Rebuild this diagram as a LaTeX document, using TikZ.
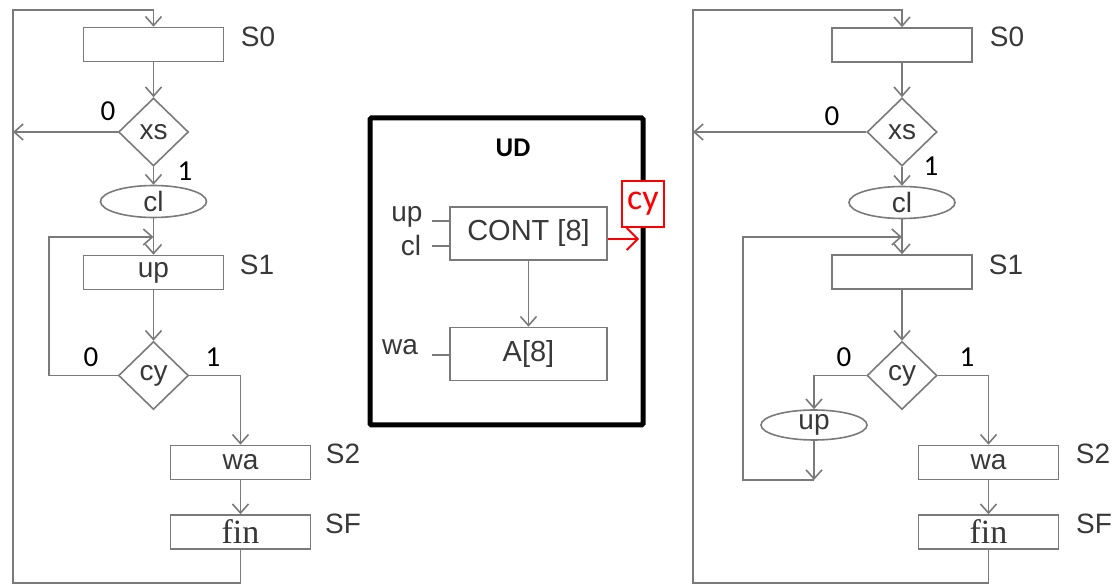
\documentclass[tikz,border=0pt]{standalone}
\usepackage{fontspec}
\setmainfont{Liberation Sans}
\newfontfamily\calib{Carlito}
\newfontfamily\tserif{Liberation Serif}
\usetikzlibrary{shapes.geometric,arrows.meta}
\definecolor{lgray}{HTML}{7A7A7A}
\definecolor{tgray}{HTML}{383838}
\begin{document}
\begin{tikzpicture}[x=1pt,y=-1pt,
  ln/.style={draw=lgray, line width=1.6pt},
  arr/.style={ln, -{Straight Barb[length=9pt,width=16pt,line width=1.6pt]}},
  stbox/.style={rectangle, draw=lgray, line width=1.6pt, minimum width=140pt, minimum height=34pt, inner sep=0pt, text=tgray, font=\fontsize{28}{32}\selectfont},
  dia/.style={diamond, draw=lgray, line width=1.6pt, minimum width=70pt, minimum height=68pt, inner sep=0pt, text=tgray, font=\fontsize{28}{32}\selectfont},
  ell/.style={ellipse, draw=lgray, line width=1.6pt, minimum width=106pt, minimum height=32pt, inner sep=0pt, text=tgray, font=\fontsize{28}{32}\selectfont},
  lbl/.style={text=tgray, inner sep=0pt, font=\fontsize{28}{32}\selectfont},
  bit/.style={text=black, inner sep=0pt, font=\calib\fontsize{29}{32}\selectfont},
  udbox/.style={rectangle, draw=lgray, line width=1.6pt, minimum width=157pt, minimum height=53pt, inner sep=0pt, text=tgray, font=\fontsize{29}{33}\selectfont},
]
\useasboundingbox (0,0) rectangle (1120,585);

% ================= LEFT CHART =================
\node[stbox] (s0L) at (153.5,44.5) {};
\node[lbl] at (258,37) {S0};
\node[dia] (xsL) at (153.5,132) {xs};
\node[bit] at (108,111) {0};
\node[bit] at (185,171) {1};
\node[ell] (clL) at (153.5,201.5) {cl};
\node[stbox] (s1L) at (153.5,272.5) {up};
\node[lbl] at (257,265) {S1};
\node[dia] (cyL) at (153.5,375.5) {cy};
\node[bit] at (91,357) {0};
\node[bit] at (213,357) {1};
\node[stbox] (waL) at (240.5,462.5) {wa};
\node[lbl] at (343,454) {S2};
\node[stbox] (finL) at (240.5,532) {\tserif\fontsize{34}{38}\selectfont fin};
\node[lbl] at (343,524) {SF};

\coordinate (bL) at (240.5,583);
\coordinate (lxL) at (13,583);
\coordinate (tL) at (13,10);
\coordinate (xsBr) at (13,132);
\coordinate (loopL) at (49,237);

\draw[arr] (finL.south) -- (bL) -- (lxL) -- (tL) -| (s0L.north);
\draw[arr] (s0L.south) -- (xsL.north);
\draw[arr] (xsL.west) -- (xsBr);
\draw[arr] (xsL.south) -- (clL.north);
\draw[arr] (clL.south) -- (s1L.north);
\draw[arr] (cyL.west) -| (loopL) -- (153.5,237);
\draw[arr] (s1L.south) -- (cyL.north);
\draw[arr] (cyL.east) -| (waL.north);
\draw[arr] (waL.south) -- (finL.north);

% ================= MIDDLE UD =================
\node[draw=black, line width=5pt, rounded corners=1.5pt, minimum width=273pt, minimum height=307pt, inner sep=0pt] (ud) at (506.5,271.5) {};
\node[inner sep=0pt, font=\calib\bfseries\fontsize{27}{30}\selectfont] at (513,148) {UD};
\node[udbox] (cont) at (528.5,233.5) {CONT [8]};
\node[udbox] (areg) at (528.5,354) {A[8]};
\node[lbl] (upin) at (407,217) {up};
\node[lbl] (clin) at (411,245) {cl};
\node[lbl] (wain) at (400,347) {wa};
\coordinate (s1) at (432,221);
\coordinate (s2) at (432,246);
\coordinate (s3) at (432,355);
\draw[ln] (s1) -- (cont.west |- s1);
\draw[ln] (s2) -- (cont.west |- s2);
\draw[ln] (s3) -- (areg.west |- s3);
\draw[arr] (cont.south) -- (areg.north);
\coordinate (cyout) at (639,239);
\draw[red, line width=1.8pt, -{Straight Barb[length=11pt,width=22pt,line width=1.8pt]}] (cont.east |- cyout) -- (cyout);
\node[draw=red, fill=white, line width=1.8pt, minimum width=42pt, minimum height=46pt, inner sep=0pt, text=red, font=\calib\fontsize{36}{40}\selectfont] (cyr) at (643,204) {cy};

% ================= RIGHT CHART =================
\node[stbox] (s0R) at (902,45) {};
\node[lbl] at (1007,37) {S0};
\node[dia] (xsR) at (902,132) {xs};
\node[bit] at (832,116) {0};
\node[bit] at (931,166) {1};
\node[ell] (clR) at (902,202.5) {cl};
\node[stbox] (s1R) at (902,272) {};
\node[lbl] at (1006,265) {S1};
\node[dia] (cyR) at (902,375.5) {cy};
\node[bit] at (844,357) {0};
\node[bit] at (967,357) {1};
\node[ell, minimum width=106pt, minimum height=30pt] (upR) at (814,425) {up};
\node[stbox] (waR) at (988.5,462.5) {wa};
\node[lbl] at (1093,454) {S2};
\node[stbox] (finR) at (988.5,532) {\tserif\fontsize{34}{38}\selectfont fin};
\node[lbl] at (1094,524) {SF};

\coordinate (bR) at (988.5,583);
\coordinate (lxR) at (693,583);
\coordinate (tR) at (693,10);
\coordinate (xsBrR) at (693,132);
\coordinate (upEnd) at (814,480);
\coordinate (loopR) at (743,480);

\draw[arr] (finR.south) -- (bR) -- (lxR) -- (tR) -| (s0R.north);
\draw[arr] (s0R.south) -- (xsR.north);
\draw[arr] (xsR.west) -- (xsBrR);
\draw[arr] (xsR.south) -- (clR.north);
\draw[arr] (clR.south) -- (s1R.north);
\draw[arr] (s1R.south) -- (cyR.north);
\draw[arr] (cyR.west) -| (upR.north);
\draw[arr] (upR.south) -- (upEnd);
\draw[arr] (upEnd) -- (loopR) |- (902,237);
\draw[arr] (cyR.east) -| (waR.north);
\draw[arr] (waR.south) -- (finR.north);
\end{tikzpicture}
\end{document}
